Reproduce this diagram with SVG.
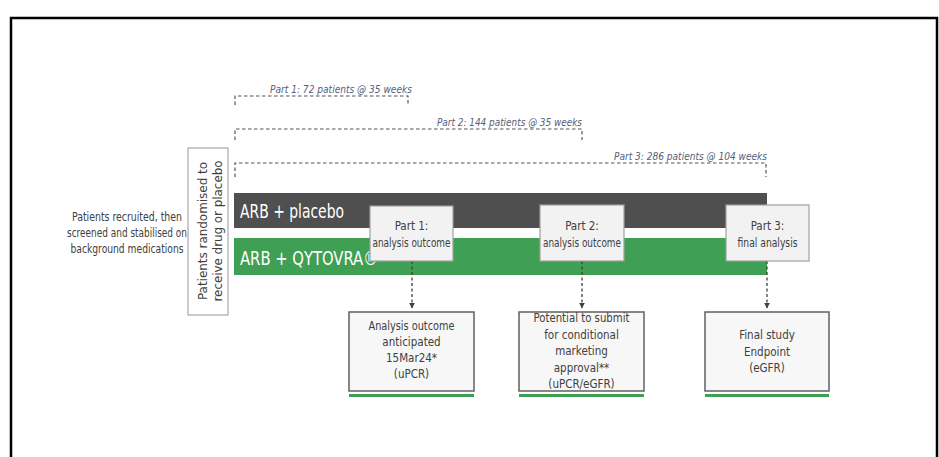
<svg xmlns="http://www.w3.org/2000/svg" width="939" height="457" viewBox="0 0 939 457">
<defs>
<style>
.t{font-family:"DejaVu Sans Condensed","DejaVu Sans","Liberation Sans",sans-serif;fill:#404040;font-size:11.5px;text-anchor:middle}
.lab{font-family:"DejaVu Sans Condensed","DejaVu Sans","Liberation Sans",sans-serif;fill:#55607a;font-size:11px;font-style:italic}
.bar{font-family:"DejaVu Sans Condensed","DejaVu Sans","Liberation Sans",sans-serif;fill:#ffffff;font-size:19px}
.dash{fill:none;stroke:#555;stroke-width:1.2;stroke-dasharray:3.5 2.5}
.pbox{fill:#f2f2f2;stroke:#a0a0a0;stroke-width:1.2}
.obox{fill:#f7f7f7;stroke:#606060;stroke-width:1.5}
.ul{fill:#3f9f55}
.arr{fill:none;stroke:#404040;stroke-width:1.3;stroke-dasharray:3 2.5}
</style>
<marker id="ah" viewBox="0 0 10 10" refX="9" refY="5" markerWidth="6" markerHeight="6" orient="auto" markerUnits="userSpaceOnUse">
<path d="M0,0 L10,5 L0,10 z" fill="#404040"/>
</marker>
</defs>
<rect x="0" y="0" width="939" height="457" fill="#ffffff"/>
<path d="M11,460 V18 H937 V460" fill="none" stroke="#000" stroke-width="2.5"/>

<g id="timeline-brackets">
<path class="dash" d="M235,105 V96 H408 V105"/>
<text class="lab" x="270" y="93" textLength="142" lengthAdjust="spacingAndGlyphs">Part 1: 72 patients @ 35 weeks</text>
<path class="dash" d="M235,140 V129 H582 V140"/>
<text class="lab" x="437" y="126" textLength="145" lengthAdjust="spacingAndGlyphs">Part 2: 144 patients @ 35 weeks</text>
<path class="dash" d="M235,177 V163 H766 V177"/>
<text class="lab" x="614" y="160" textLength="153" lengthAdjust="spacingAndGlyphs">Part 3: 286 patients @ 104 weeks</text>
</g>

<g id="recruitment">
<text class="t" x="127" y="221" textLength="110" lengthAdjust="spacingAndGlyphs">Patients recruited, then</text>
<text class="t" x="127" y="237" textLength="120" lengthAdjust="spacingAndGlyphs">screened and stabilised on</text>
<text class="t" x="127" y="253" textLength="113" lengthAdjust="spacingAndGlyphs">background medications</text>
</g>

<g id="randomisation">
<rect x="188" y="148" width="40" height="167" fill="#ffffff" stroke="#a8a8a8" stroke-width="1.2"/>
<text class="t" transform="translate(207,231) rotate(-90)" x="0" y="0" textLength="138" lengthAdjust="spacingAndGlyphs">Patients randomised to</text>
<text class="t" transform="translate(222,231) rotate(-90)" x="0" y="0" textLength="141" lengthAdjust="spacingAndGlyphs">receive drug or placebo</text>
</g>

<g id="placebo-arm">
<rect x="234" y="193" width="533" height="35" fill="#4f4f4f"/>
<text class="bar" x="240" y="218" textLength="104" lengthAdjust="spacingAndGlyphs">ARB + placebo</text>
</g>

<g id="drug-arm">
<rect x="234" y="238" width="533" height="37" fill="#3f9f55"/>
<text class="bar" x="240" y="265" textLength="138" lengthAdjust="spacingAndGlyphs">ARB + QYTOVRA®</text>
</g>

<g id="connectors">
<line class="arr" x1="412" y1="261" x2="412" y2="308" marker-end="url(#ah)"/>
<line class="arr" x1="582" y1="261" x2="582" y2="308" marker-end="url(#ah)"/>
<line class="arr" x1="767" y1="261" x2="767" y2="308" marker-end="url(#ah)"/>
</g>

<g id="part1-analysis">
<rect class="pbox" x="370" y="206" width="83" height="55"/>
<text class="t" x="411.5" y="230" font-size="11">Part 1:</text>
<text class="t" x="411.5" y="247" font-size="11" textLength="78" lengthAdjust="spacingAndGlyphs">analysis outcome</text>
</g>

<g id="part2-analysis">
<rect class="pbox" x="540" y="205" width="84" height="56"/>
<text class="t" x="582" y="230" font-size="11">Part 2:</text>
<text class="t" x="582" y="247" font-size="11" textLength="78" lengthAdjust="spacingAndGlyphs">analysis outcome</text>
</g>

<g id="part3-analysis">
<rect class="pbox" x="726" y="205" width="83" height="56"/>
<text class="t" x="767.5" y="230" font-size="11">Part 3:</text>
<text class="t" x="767.5" y="247" font-size="11" textLength="60" lengthAdjust="spacingAndGlyphs">final analysis</text>
</g>

<g id="outcome1">
<rect class="obox" x="349" y="312" width="125" height="79"/>
<rect class="ul" x="349" y="394" width="125" height="3"/>
<text class="t" x="411.5" y="330" font-size="12" textLength="86" lengthAdjust="spacingAndGlyphs">Analysis outcome</text>
<text class="t" x="411.5" y="346" font-size="12">anticipated</text>
<text class="t" x="411.5" y="362" font-size="12">15Mar24*</text>
<text class="t" x="411.5" y="378" font-size="12">(uPCR)</text>
</g>

<g id="outcome2">
<rect class="obox" x="519" y="312" width="125" height="79"/>
<rect class="ul" x="519" y="394" width="125" height="3"/>
<text class="t" x="581.5" y="322" font-size="12" textLength="96" lengthAdjust="spacingAndGlyphs">Potential to submit</text>
<text class="t" x="581.5" y="338.5" font-size="12">for conditional</text>
<text class="t" x="581.5" y="355" font-size="12">marketing</text>
<text class="t" x="581.5" y="371.5" font-size="12">approval**</text>
<text class="t" x="581.5" y="388" font-size="12">(uPCR/eGFR)</text>
</g>

<g id="outcome3">
<rect class="obox" x="705" y="312" width="124" height="79"/>
<rect class="ul" x="705" y="394" width="124" height="3"/>
<text class="t" x="767" y="339" font-size="12">Final study</text>
<text class="t" x="767" y="355.5" font-size="12">Endpoint</text>
<text class="t" x="767" y="372" font-size="12">(eGFR)</text>
</g>
</svg>
